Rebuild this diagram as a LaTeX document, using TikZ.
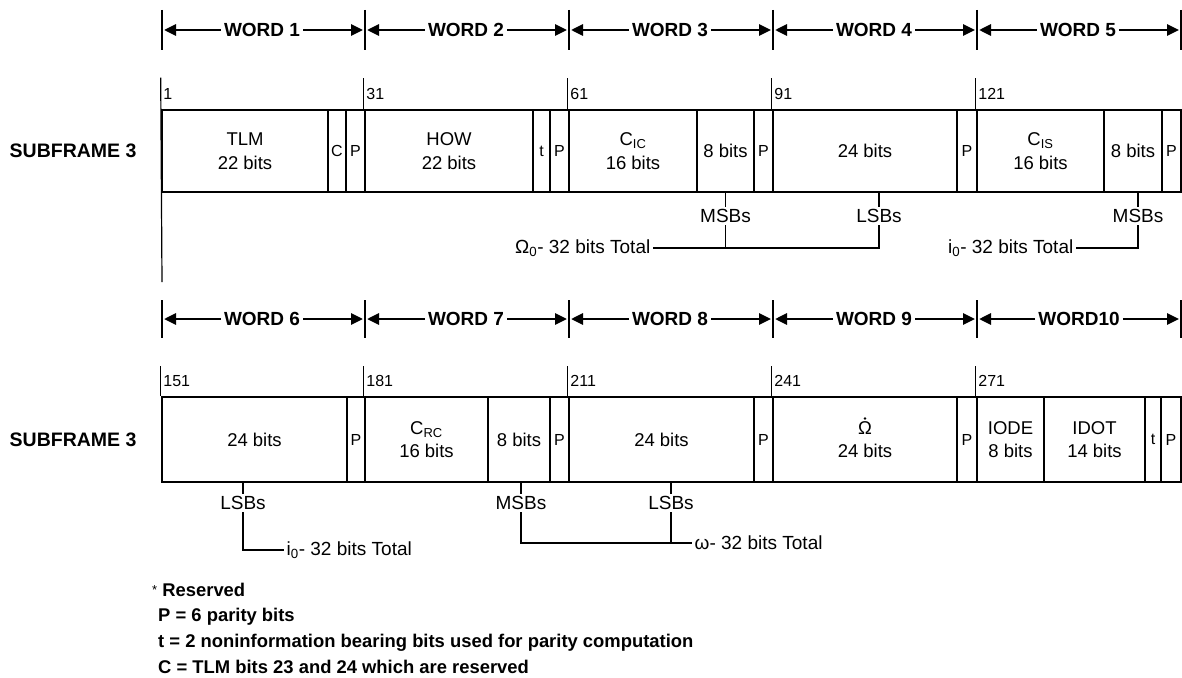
\documentclass[tikz,border=0pt]{standalone}
\usepackage{fontspec}
\setmainfont{Liberation Sans}
\usetikzlibrary{arrows.meta, positioning}

\begin{document}
\begin{tikzpicture}[x=1pt, y=-1pt,
    field/.style={draw, line width=2.6pt, inner sep=0pt, minimum height=82pt, align=center, font=\fontsize{18.5}{23.5}\selectfont},
    cell/.style={field, font=\fontsize{16}{18}\selectfont},
    row2/.style={minimum height=85pt},
    wordlbl/.style={font=\fontsize{19}{22}\selectfont\bfseries, inner sep=3pt},
    sflbl/.style={font=\fontsize{19.5}{22}\selectfont\bfseries, inner sep=0pt},
    arrow/.style={-{Triangle[length=12pt, width=11pt]}, line width=2.8pt, shorten >=2pt},
    bar/.style={line width=1.2pt},
    bitno/.style={anchor=base west, font=\fontsize{16}{18}\selectfont, inner sep=2.5pt},
    sidenote/.style={font=\fontsize{19}{22}\selectfont, inner sep=2.5pt},
    legend/.style={anchor=west, font=\fontsize{18.4}{21}\selectfont\bfseries, inner sep=0pt}
]
    \useasboundingbox (0,0) rectangle (1182,677);

    % Word headers, subframe row 1
    \coordinate (ha0) at (162,30);
    \coordinate (ha1) at (365,30);
    \coordinate (ha2) at (569,30);
    \coordinate (ha3) at (773,30);
    \coordinate (ha4) at (977,30);
    \coordinate (ha5) at (1181,30);
    \foreach \i in {0,...,5} \draw[bar] ([yshift=20pt]ha\i) -- ([yshift=-20pt]ha\i);

    \node[wordlbl] (wd1) at (262,30) {WORD 1};
    \node[wordlbl] (wd2) at (466,30) {WORD 2};
    \node[wordlbl] (wd3) at (670,30) {WORD 3};
    \node[wordlbl] (wd4) at (874,30) {WORD 4};
    \node[wordlbl] (wd5) at (1078,30) {WORD 5};
    \draw[arrow] (wd1.west) -- (wd1.west -| ha0);
    \draw[arrow] (wd1.east) -- (wd1.east -| ha1);
    \draw[arrow] (wd2.west) -- (wd2.west -| ha1);
    \draw[arrow] (wd2.east) -- (wd2.east -| ha2);
    \draw[arrow] (wd3.west) -- (wd3.west -| ha2);
    \draw[arrow] (wd3.east) -- (wd3.east -| ha3);
    \draw[arrow] (wd4.west) -- (wd4.west -| ha3);
    \draw[arrow] (wd4.east) -- (wd4.east -| ha4);
    \draw[arrow] (wd5.west) -- (wd5.west -| ha4);
    \draw[arrow] (wd5.east) -- (wd5.east -| ha5);

    % Subframe row 1 fields
    \node[field, minimum width=166pt] (tlm)  at (245,151)    {TLM\\22 bits};
    \node[cell,  minimum width=18pt]  (c1)   at (337,151)    {C};
    \node[cell,  minimum width=19pt]  (p1)   at (355.5,151)  {P};
    \node[field, minimum width=168pt] (how)  at (449,151)    {HOW\\22 bits};
    \node[cell,  minimum width=17pt]  (t1)   at (541.5,151)  {t};
    \node[cell,  minimum width=19pt]  (p2)   at (559.5,151)  {P};
    \node[field, minimum width=128pt] (cic)  at (633,151)    {C\textsubscript{IC}\\16 bits};
    \node[field, minimum width=57pt]  (cic8) at (725.5,151)  {8 bits};
    \node[cell,  minimum width=19pt]  (p3)   at (763.5,151)  {P};
    \node[field, minimum width=184pt] (om24) at (865,151)    {24 bits};
    \node[cell,  minimum width=20pt]  (p4)   at (967,151)    {P};
    \node[field, minimum width=127pt] (cis)  at (1040.5,151) {C\textsubscript{IS}\\16 bits};
    \node[field, minimum width=58pt]  (cis8) at (1133,151)   {8 bits};
    \node[cell,  minimum width=19pt]  (p5)   at (1171.5,151) {P};

    \node[sflbl, left=24pt of tlm] (sf1) {SUBFRAME 3};

    % Bit numbers
    \node[bitno] (n1)   at ([yshift=9pt]tlm.north west)  {1};
    \node[bitno] (n31)  at ([yshift=9pt]how.north west)  {31};
    \node[bitno] (n61)  at ([yshift=9pt]cic.north west)  {61};
    \node[bitno] (n91)  at ([yshift=9pt]om24.north west) {91};
    \node[bitno] (n121) at ([yshift=9pt]cis.north west)  {121};
    \coordinate (sf1end) at (162,282);
    \draw[bar] ([yshift=31pt]tlm.north west) -- (sf1end);
    \draw[bar] (how.north west)  -- ++(0,-31);
    \draw[bar] (cic.north west)  -- ++(0,-31);
    \draw[bar] (om24.north west) -- ++(0,-31);
    \draw[bar] (cis.north west)  -- ++(0,-31);

    % MSB / LSB notes, row 1
    \node[sidenote] (msb1) at (725.5,216) {MSBs};
    \node[sidenote] (lsb1) at (879,216)   {LSBs};
    \node[sidenote] (msb2) at (1138,216)  {MSBs};
    \node[sidenote, anchor=east] (om0tot) at (653,248) {Ω\textsubscript{0}- 32 bits Total};
    \node[sidenote, anchor=east] (i0tot)  at (1076,248) {i\textsubscript{0}- 32 bits Total};
    \draw[bar] (msb1 |- cic8.south) -- (msb1);
    \draw[bar] (lsb1 |- om24.south) -- (lsb1);
    \draw[bar] (msb2 |- cis8.south) -- (msb2);
    \draw[bar] (msb1) -- (msb1 |- om0tot);
    \draw[bar] (om0tot) -- (lsb1 |- om0tot) -- (lsb1);
    \draw[bar] (i0tot) -- (msb2 |- i0tot) -- (msb2);

    % Word headers, subframe row 2
    \coordinate (hb0) at (162,319);
    \coordinate (hb1) at (365,319);
    \coordinate (hb2) at (569,319);
    \coordinate (hb3) at (773,319);
    \coordinate (hb4) at (977,319);
    \coordinate (hb5) at (1181,319);
    \foreach \i in {0,...,5} \draw[bar] ([yshift=19pt]hb\i) -- ([yshift=-19pt]hb\i);

    \node[wordlbl] (wd6)  at (262,319)  {WORD 6};
    \node[wordlbl] (wd7)  at (466,319)  {WORD 7};
    \node[wordlbl] (wd8)  at (670,319)  {WORD 8};
    \node[wordlbl] (wd9)  at (874,319)  {WORD 9};
    \node[wordlbl] (wd10) at (1079,319) {WORD10};
    \draw[arrow] (wd6.west)  -- (wd6.west -| hb0);
    \draw[arrow] (wd6.east)  -- (wd6.east -| hb1);
    \draw[arrow] (wd7.west)  -- (wd7.west -| hb1);
    \draw[arrow] (wd7.east)  -- (wd7.east -| hb2);
    \draw[arrow] (wd8.west)  -- (wd8.west -| hb2);
    \draw[arrow] (wd8.east)  -- (wd8.east -| hb3);
    \draw[arrow] (wd9.west)  -- (wd9.west -| hb3);
    \draw[arrow] (wd9.east)  -- (wd9.east -| hb4);
    \draw[arrow] (wd10.west) -- (wd10.west -| hb4);
    \draw[arrow] (wd10.east) -- (wd10.east -| hb5);

    % Subframe row 2 fields
    \node[field, row2, minimum width=185pt] (s6)   at (254.5,439.5)  {24 bits};
    \node[cell,  row2, minimum width=18pt]  (q1)   at (356,439.5)    {P};
    \node[field, row2, minimum width=123pt] (crc)  at (426.5,439.5)  {C\textsubscript{RC}\\16 bits};
    \node[field, row2, minimum width=62pt]  (crc8) at (519,439.5)    {8 bits};
    \node[cell,  row2, minimum width=19pt]  (q2)   at (559.5,439.5)  {P};
    \node[field, row2, minimum width=185pt] (w8)   at (661.5,439.5)  {24 bits};
    \node[cell,  row2, minimum width=19pt]  (q3)   at (763.5,439.5)  {P};
    \node[field, row2, minimum width=184pt] (odot) at (865,439.5)    {Ω\\24 bits};
    \fill ([yshift=21pt]odot.center) circle (1.4pt);
    \node[cell,  row2, minimum width=20pt]  (q4)   at (967,439.5)    {P};
    \node[field, row2, minimum width=67pt]  (iode) at (1010.5,439.5) {IODE\\8 bits};
    \node[field, row2, minimum width=101pt] (idot) at (1094.5,439.5) {IDOT\\14 bits};
    \node[cell,  row2, minimum width=16pt]  (t2)   at (1153,439.5)   {t};
    \node[cell,  row2, minimum width=20pt]  (q5)   at (1171,439.5)   {P};

    \node[sflbl, left=24pt of s6] (sf2) {SUBFRAME 3};

    % Bit numbers
    \node[bitno] (n151) at ([yshift=9pt]s6.north west)   {151};
    \node[bitno] (n181) at ([yshift=9pt]crc.north west)  {181};
    \node[bitno] (n211) at ([yshift=9pt]w8.north west)   {211};
    \node[bitno] (n241) at ([yshift=9pt]odot.north west) {241};
    \node[bitno] (n271) at ([yshift=9pt]iode.north west) {271};
    \draw[bar] (s6.north west)   -- ++(0,-30);
    \draw[bar] (crc.north west)  -- ++(0,-30);
    \draw[bar] (w8.north west)   -- ++(0,-30);
    \draw[bar] (odot.north west) -- ++(0,-30);
    \draw[bar] (iode.north west) -- ++(0,-30);

    % MSB / LSB notes, row 2
    \node[sidenote] (lsb6) at (243,503) {LSBs};
    \node[sidenote] (msb7) at (521,503) {MSBs};
    \node[sidenote] (lsb8) at (671,503) {LSBs};
    \node[sidenote, anchor=west] (i0tot2) at (284,550) {i\textsubscript{0}- 32 bits Total};
    \node[sidenote, anchor=west] (omtot)  at (692,543) {ω- 32 bits Total};
    \draw[bar] (lsb6 |- s6.south) -- (lsb6);
    \draw[bar] (msb7 |- crc8.south) -- (msb7);
    \draw[bar] (lsb8 |- w8.south) -- (lsb8);
    \draw[bar] (lsb6) -- (lsb6 |- i0tot2) -- (i0tot2);
    \draw[bar] (msb7) -- (msb7 |- omtot) -- (omtot);
    \draw[bar] (lsb8) -- (lsb8 |- omtot);

    % Legend
    \node[legend] (lg0) at (152,590) {\raisebox{2pt}{\fontsize{13}{13}\selectfont\mdseries *} Reserved};
    \node[legend] (lg1) at (158,617) {P = 6 parity bits};
    \node[legend, below=26pt of lg1.west, anchor=west] (lg2) {t = 2 noninformation bearing bits used for parity computation};
    \node[legend, below=24pt of lg2.west, anchor=west] (lg3) {C = TLM bits 23 and 24 which are reserved};
\end{tikzpicture}
\end{document}
